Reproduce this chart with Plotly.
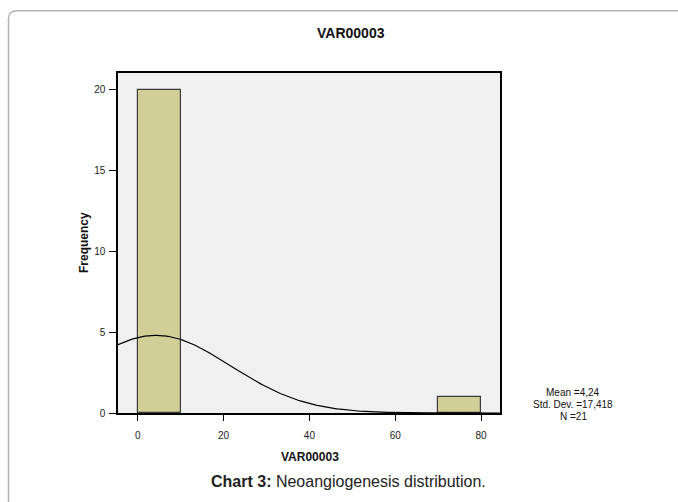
import numpy as np
import plotly.graph_objects as go

# Data
bin_left = [0, 70]
bin_width = 10
counts = [20, 1]
mean_val = 4.24
std_val = 17.418
n_val = 21
x_ticks = [0, 20, 40, 60, 80]
y_ticks = [0, 5, 10, 15, 20]
stats_text = ["Mean =4,24", "Std. Dev. =17,418", "N =21"]

FONT = "Liberation Sans, Arial, sans-serif"
W, H = 678, 502
L, R, T, B = 118, 500, 73, 413
x_range = [-4.6, 84.4]
y_range = [0, 21.05]

fig = go.Figure()
fig.add_trace(go.Bar(
    x=[b + bin_width / 2 for b in bin_left], y=counts, width=bin_width,
    marker=dict(color="#d2ce98", line=dict(color="#3c3c3c", width=1.2)),
    hoverinfo="skip", showlegend=False))

xs = np.linspace(x_range[0], x_range[1], 300)
ys = n_val * bin_width / (std_val * np.sqrt(2 * np.pi)) * np.exp(-0.5 * ((xs - mean_val) / std_val) ** 2)
fig.add_trace(go.Scatter(x=xs, y=ys, mode="lines", line=dict(color="black", width=1.2),
                         hoverinfo="skip", showlegend=False))

def px2paper(px, py):
    return (px - L) / (R - L), (B - py) / (B - T)

# outer frame (top-left rounded corner)
p1 = px2paper(8.5, 520)
p2 = px2paper(8.5, 19)
pc = px2paper(8.5, 10.7)
p3 = px2paper(17, 10.7)
p4 = px2paper(690, 10.7)
path = f"M {p1[0]},{p1[1]} L {p2[0]},{p2[1]} Q {pc[0]},{pc[1]} {p3[0]},{p3[1]} L {p4[0]},{p4[1]}"
fig.add_shape(type="path", path=path, xref="paper", yref="paper",
              line=dict(color="#b4b4b4", width=1.5), layer="above")

def add_text(px, py, text, size, bold=False, color="#111"):
    x, y = px2paper(px, py)
    fig.add_annotation(x=x, y=y, xref="paper", yref="paper", text=(f"<b>{text}</b>" if bold else text),
                       showarrow=False, xanchor="center", yanchor="middle",
                       font=dict(family=FONT, size=size, color=color))

add_text(351, 33, "VAR00003", 14, bold=True)
add_text(310, 457, "VAR00003", 12, bold=True)
add_text(348, 481, "<b>Chart 3:</b> Neoangiogenesis distribution.", 16, color="#222")
for i, s in enumerate(stats_text):
    add_text(573, 392 + 12 * i, s, 10)

x, y = px2paper(84, 243)
fig.add_annotation(x=x, y=y, xref="paper", yref="paper", text="<b>Frequency</b>", textangle=-90,
                   showarrow=False, xanchor="center", yanchor="middle",
                   font=dict(family=FONT, size=12, color="#111"))

fig.update_layout(
    width=W, height=H,
    margin=dict(l=L, r=W - R, t=T, b=H - B, pad=0),
    paper_bgcolor="white", plot_bgcolor="#f0f0f0",
    bargap=0,
    xaxis=dict(range=x_range, tickvals=x_ticks, ticks="outside", ticklen=6, tickwidth=1.2,
               tickcolor="black", showgrid=False, zeroline=False, showline=True,
               linecolor="black", linewidth=1.5, mirror=True,
               tickfont=dict(family=FONT, size=10, color="#222"), ticklabelstandoff=6),
    yaxis=dict(range=y_range, tickvals=y_ticks, ticks="outside", ticklen=7, tickwidth=1.2,
               tickcolor="black", showgrid=False, zeroline=False, showline=True,
               linecolor="black", linewidth=1.5, mirror=True,
               tickfont=dict(family=FONT, size=10, color="#222"), ticklabelstandoff=2),
    font=dict(family=FONT),
)

fig.write_html("out.html", config={"displayModeBar": False},
               post_script="document.body.style.margin='0';document.body.style.overflow='hidden';")
